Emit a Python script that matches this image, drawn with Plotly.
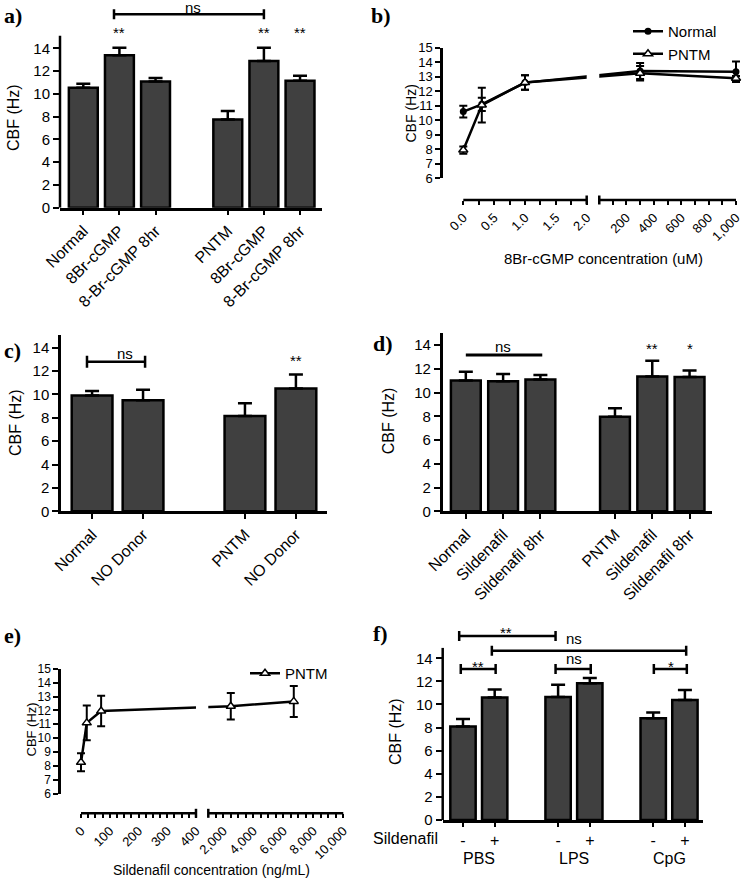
import plotly.graph_objects as go

W, H = 747, 880
SANS = "Liberation Sans, Arial, Helvetica, sans-serif"
SERIF = "Liberation Serif, Times New Roman, serif"
BAR_FILL = "#404040"
INK = "black"

# ---------------- data ----------------
# a) 8Br-cGMP
a_cats = ["Normal", "8Br-cGMP", "8-Br-cGMP 8hr", "PNTM", "8Br-cGMP", "8-Br-cGMP 8hr"]
a_pos = [0, 1, 2, 4, 5, 6]
a_mean = [10.55, 13.4, 11.1, 7.75, 12.9, 11.15]
a_sem = [0.35, 0.65, 0.3, 0.75, 1.15, 0.45]
a_brackets = [(0.85, 5.0, 17.0, "ns", 3.05, 17.6)]
a_stars = [(1, 15.75, "**"), (5, 15.75, "**"), (6, 15.75, "**")]

# b) 8Br-cGMP concentration series
b_conc = [0, 0.3, 1.0, 300, 1000]
b_normal = [10.6, 11.1, 12.6, 13.4, 13.35]
b_normal_sem = [0.4, 0.45, 0.5, 0.55, 0.7]
b_pntm = [7.95, 11.05, 12.6, 13.25, 12.9]
b_pntm_sem = [0.25, 1.2, 0.5, 0.5, 0.15]
b_seg1 = (0, 2)
b_seg2 = (2, 1000)
b_major = [0, 0.5, 1.0, 1.5, 2.0, 200, 400, 600, 800, 1000]
b_major_text = ["0.0", "0.5", "1.0", "1.5", "2.0", "200", "400", "600", "800", "1,000"]
b_minor = [0.25, 0.75, 1.25, 1.75, 100, 300, 500, 700, 900]

# c) NO donor
c_cats = ["Normal", "NO Donor", "PNTM", "NO Donor"]
c_pos = [0, 1, 3, 4]
c_mean = [9.9, 9.5, 8.15, 10.5]
c_sem = [0.4, 0.9, 1.1, 1.2]
c_brackets = [(-0.1, 1.04, 12.8, "ns", 0.65, 13.5)]
c_stars = [(4, 13.2, "**")]

# d) Sildenafil
d_cats = ["Normal", "Sildenafil", "Sildenafil 8hr", "PNTM", "Sildenafil", "Sildenafil 8hr"]
d_pos = [0, 1, 2, 4, 5, 6]
d_mean = [11.0, 10.95, 11.1, 7.95, 11.35, 11.3]
d_sem = [0.75, 0.6, 0.37, 0.72, 1.33, 0.55]
d_lines = [(0, 2.05, 13.16, "ns", 1.0, 13.86)]
d_stars = [(5, 14.05, "**"), (6, 14.05, "*")]

# e) Sildenafil concentration series (PNTM)
e_conc = [0, 20, 70, 2500, 6700]
e_pntm = [8.25, 11.1, 11.95, 12.3, 12.65]
e_pntm_sem = [0.65, 1.25, 1.1, 0.95, 1.12]
e_seg1 = (0, 400)
e_seg2 = (1000, 10000)
e_major = [0, 100, 200, 300, 400, 2000, 4000, 6000, 8000, 10000]
e_major_text = ["0", "100", "200", "300", "400", "2,000", "4,000", "6,000", "8,000", "10,000"]
e_minor = [v for v in range(25, 400, 25) if v % 100] + [v for v in range(1500, 10000, 500) if v % 2000]

# f) Sildenafil with PBS / LPS / CpG
f_ticks = ["-", "+", "-", "+", "-", "+"]
f_groups = ["PBS", "LPS", "CpG"]
f_pos = [0, 1, 3, 4, 6, 7]
f_mean = [8.1, 10.6, 10.65, 11.85, 8.8, 10.4]
f_sem = [0.65, 0.7, 1.05, 0.45, 0.5, 0.85]
f_brackets = [
    (-0.07, 1.03, 13.07, "**", 0.48, 13.6),
    (2.92, 4.03, 13.07, "ns", 3.5, 14.0),
    (6.02, 7.06, 13.07, "*", 6.56, 13.6),
    (-0.12, 2.92, 15.93, "**", 1.36, 16.6),
    (0.91, 7.04, 14.66, "ns", 3.5, 15.73),
]

# ---------------- helpers ----------------
fig = go.Figure()
layout = dict(
    width=W, height=H, margin=dict(l=0, r=0, t=0, b=0),
    paper_bgcolor="white", plot_bgcolor="white",
    font=dict(family=SANS, color=INK), hovermode=False,
)
shapes = []
annotations = []


def px_x(p):
    return p / W


def px_y(p):
    return 1 - p / H


def names(idx):
    s = "" if idx == 1 else str(idx)
    return "x" + s, "y" + s, "xaxis" + s, "yaxis" + s


def ydomain(ybot_px, ppu, yrange):
    top = ybot_px - (yrange[1] - yrange[0]) * ppu
    return [px_y(ybot_px), px_y(top)]


def make_break(seg1, seg2, d1, d2):
    def f(c):
        if c <= seg1[1]:
            return d1[0] + (c - seg1[0]) / (seg1[1] - seg1[0]) * (d1[1] - d1[0])
        return d2[0] + (c - seg2[0]) / (seg2[1] - seg2[0]) * (d2[1] - d2[0])
    return f


def text(xref, yref, x, y, t, size=15, yshift=0, **kw):
    annotations.append(dict(xref=xref, yref=yref, x=x, y=y, text=t, showarrow=False,
                            font=dict(size=size, color=INK), xanchor=kw.pop("xanchor", "center"),
                            yanchor="middle", yshift=yshift, **kw))


def hline(xref, yref, x0, x1, y, width=2.5):
    shapes.append(dict(type="line", xref=xref, yref=yref, x0=x0, x1=x1, y0=y, y1=y,
                       line=dict(color=INK, width=width)))


def vtick(xref, yref, x, y, half=5, width=2.5):
    shapes.append(dict(type="line", xref=xref, yref=yref, x0=x, x1=x, ysizemode="pixel",
                       yanchor=y, y0=-half, y1=half, line=dict(color=INK, width=width)))


def bar_panel(idx, pos, cats, mean, sem, xdom, xrange, ybot, ppu, yrange, ytop_line=None,
              tickangle=-45):
    xa, ya, xk, yk = names(idx)
    fig.add_trace(go.Bar(
        x=pos, y=mean, width=0.8, xaxis=xa, yaxis=ya, showlegend=False,
        marker=dict(color=BAR_FILL, line=dict(color=INK, width=2.5)),
        error_y=dict(type="data", array=sem, arrayminus=[0] * len(sem), symmetric=False,
                     color=INK, thickness=2.5, width=7),
    ))
    layout[xk] = dict(
        domain=[px_x(xdom[0]), px_x(xdom[1])], range=xrange, anchor=ya,
        tickmode="array", tickvals=pos, ticktext=cats, tickangle=tickangle,
        ticks="outside", ticklen=5, tickwidth=2, tickcolor=INK,
        showline=True, linecolor=INK, linewidth=2.5, showgrid=False, zeroline=False,
        tickfont=dict(size=16), automargin=False, fixedrange=True,
    )
    layout[yk] = dict(
        domain=ydomain(ybot, ppu, yrange), range=yrange, anchor=xa,
        tickmode="array", tickvals=list(range(0, 15, 2)),
        ticks="outside", ticklen=6, tickwidth=2, tickcolor=INK,
        showline=ytop_line is None, linecolor=INK, linewidth=2.5,
        showgrid=False, zeroline=False, tickfont=dict(size=15),
        automargin=False, fixedrange=True,
    )
    if ytop_line is not None:
        shapes.append(dict(type="line", xref=xa + " domain", x0=0, x1=0, yref=ya,
                           y0=yrange[0], y1=ytop_line, line=dict(color=INK, width=2.5)))
    return xa, ya


def line_panel(idx, fx, series, xdom, xrange, ybot, ppu, yrange, xpos_px,
               major, major_text, minor, seg1_end_d, seg2_start_d, seg2_end_d, legend,
               ytick_size, xtick_size):
    xa, ya, xk, yk = names(idx)
    for name, xs, ys, es, marker in series:
        fig.add_trace(go.Scatter(
            x=[fx(c) for c in xs], y=ys, mode="lines+markers", name=name,
            xaxis=xa, yaxis=ya, legend=legend, cliponaxis=False,
            line=dict(color=INK, width=2.5), marker=marker,
            error_y=dict(type="data", array=es, color=INK, thickness=2, width=4),
        ))
    layout[xk] = dict(
        domain=[px_x(xdom[0]), px_x(xdom[1])], range=xrange, anchor="free",
        position=px_y(xpos_px),
        tickmode="array", tickvals=[fx(v) for v in major], ticktext=major_text,
        tickangle=-45, ticks="outside", ticklen=4, tickwidth=1.5, tickcolor=INK,
        minor=dict(tickmode="array", tickvals=[fx(v) for v in minor], ticks="outside",
                   ticklen=4, tickwidth=1.5, tickcolor=INK),
        showline=False, showgrid=False, zeroline=False,
        tickfont=dict(size=xtick_size), automargin=False, fixedrange=True,
    )
    layout[yk] = dict(
        domain=ydomain(ybot, ppu, yrange), range=yrange, anchor=xa,
        tickmode="array", tickvals=list(range(int(yrange[0]), int(yrange[1]) + 1)),
        ticks="outside", ticklen=5, tickwidth=2, tickcolor=INK,
        showline=True, linecolor=INK, linewidth=2.5,
        showgrid=False, zeroline=False, tickfont=dict(size=ytick_size),
        automargin=False, fixedrange=True,
    )
    ypos = px_y(xpos_px)
    # broken x axis: two segments with break marks
    shapes.append(dict(type="line", xref=xa, yref="paper", x0=fx(major[0]), x1=seg1_end_d,
                       y0=ypos, y1=ypos, line=dict(color=INK, width=2.5)))
    shapes.append(dict(type="line", xref=xa, yref="paper", x0=seg2_start_d, x1=seg2_end_d,
                       y0=ypos, y1=ypos, line=dict(color=INK, width=2.5)))
    vtick(xa, "paper", seg1_end_d, ypos, half=4.5)
    vtick(xa, "paper", seg2_start_d, ypos, half=4.5)
    # gap in the data line at the axis break
    shapes.append(dict(type="rect", xref=xa, yref=ya, x0=seg1_end_d, x1=seg2_start_d,
                       y0=yrange[0], y1=yrange[1], fillcolor="white", line=dict(width=0),
                       layer="above"))
    return xa, ya


# ---------------- panel a ----------------
xa, ya = bar_panel(1, a_pos, a_cats, a_mean, a_sem, (60, 321.7), [-0.645, 6.6],
                   207.7, 11.38, [0, 18.2], ytop_line=15.1)
for x0, x1, y, lab, lx, ly in a_brackets:
    hline(xa, ya, x0, x1, y)
    vtick(xa, ya, x0, y)
    vtick(xa, ya, x1, y)
    text(xa, ya, lx, ly, lab, size=15)
for x, y, lab in a_stars:
    text(xa, ya, x, y, lab, size=15, yshift=-4)

# ---------------- panel b ----------------
fb = make_break(b_seg1, b_seg2, (0, 2.0), (2.204, 4.42))
NORMAL_MK = dict(symbol="circle", size=7, color=INK)
PNTM_MK = dict(symbol="triangle-up", size=8, color="white", line=dict(color=INK, width=1.5))
xb, yb = line_panel(
    2, fb,
    [("Normal", b_conc, b_normal, b_normal_sem, NORMAL_MK),
     ("PNTM", b_conc, b_pntm, b_pntm_sem, PNTM_MK)],
    (443, 745), [-0.329, 4.566], 178.3, 14.5, [6, 15], 200,
    b_major, b_major_text, b_minor, fb(b_seg1[1]), 2.204, fb(b_seg2[1]), "legend",
    13, 13,
)

# ---------------- panel c ----------------
xc, yc = bar_panel(3, c_pos, c_cats, c_mean, c_sem, (61, 327), [-0.61, 4.61],
                   511.3, 11.69, [0, 15.1])
for x0, x1, y, lab, lx, ly in c_brackets:
    hline(xc, yc, x0, x1, y)
    vtick(xc, yc, x0, y, half=6)
    vtick(xc, yc, x1, y, half=6)
    text(xc, yc, lx, ly, lab, size=15)
for x, y, lab in c_stars:
    text(xc, yc, x, y, lab, size=15, yshift=-4)

# ---------------- panel d ----------------
xd, yd = bar_panel(4, d_pos, d_cats, d_mean, d_sem, (442.7, 712.3), [-0.62, 6.61],
                   511.3, 11.88, [0, 15.0])
for x0, x1, y, lab, lx, ly in d_lines:
    hline(xd, yd, x0, x1, y, width=3)
    text(xd, yd, lx, ly, lab, size=15)
for x, y, lab in d_stars:
    text(xd, yd, x, y, lab, size=15, yshift=-4)

# ---------------- panel e ----------------
fe = make_break(e_seg1, e_seg2, (0, 1.0), (1.107, 2.281))
xe, ye = line_panel(
    5, fe,
    [("PNTM", e_conc, e_pntm, e_pntm_sem, PNTM_MK)],
    (61, 345), [-0.174, 2.296], 793.5, 13.85, [6, 15], 813.3,
    e_major, e_major_text, e_minor, fe(e_seg1[1]), 1.107, fe(e_seg2[1]), "legend2",
    12, 13,
)

# ---------------- panel f ----------------
xf, yf = bar_panel(6, f_pos, f_ticks, f_mean, f_sem, (442.7, 703.3), [-0.64, 7.58],
                   820, 11.55, [0, 17.5], ytop_line=14.9, tickangle=0)
layout["xaxis6"]["ticklen"] = 4
for x0, x1, y, lab, lx, ly in f_brackets:
    hline(xf, yf, x0, x1, y)
    vtick(xf, yf, x0, y)
    vtick(xf, yf, x1, y)
    if lab.startswith("*"):
        text(xf, yf, lx, ly, lab, size=15, yshift=-4)
    else:
        text(xf, yf, lx, ly, lab, size=15)
for g, name in enumerate(f_groups):
    text(xf, "paper", (f_pos[2 * g] + f_pos[2 * g + 1]) / 2, px_y(858.3), name, size=16)
text("paper", "paper", px_x(371), px_y(838.3), "Sildenafil", size=16, xanchor="left")

# ---------------- titles & panel letters ----------------
for lx, ly, lab in [(2, 15, "a)"), (369, 15, "b)"), (2, 350, "c)"), (371, 344, "d)"),
                    (2, 635, "e)"), (371, 633, "f)")]:
    annotations.append(dict(xref="paper", yref="paper", x=px_x(lx), y=px_y(ly),
                            text="<b>" + lab + "</b>", showarrow=False, xanchor="left",
                            yanchor="middle", font=dict(family=SERIF, size=22, color=INK)))

for cx, cy, size in [(13.5, 117.5, 16), (15, 423, 16), (388.3, 421, 16), (395, 732, 16),
                     (410.5, 113, 14), (30.5, 730, 13)]:
    annotations.append(dict(xref="paper", yref="paper", x=px_x(cx), y=px_y(cy),
                            text="CBF (Hz)", textangle=-90, showarrow=False,
                            xanchor="center", yanchor="middle",
                            font=dict(size=size, color=INK)))

text("paper", "paper", px_x(603), px_y(258), "8Br-cGMP concentration (uM)", size=15)
text("paper", "paper", px_x(212), px_y(870), "Sildenafil concentration (ng/mL)", size=14)

layout["legend"] = dict(x=px_x(628), y=px_y(15), xanchor="left", yanchor="top",
                        font=dict(size=15, color=INK), bgcolor="rgba(0,0,0,0)",
                        borderwidth=0, itemwidth=30, tracegroupgap=0)
layout["legend2"] = dict(x=px_x(245), y=px_y(657), xanchor="left", yanchor="top",
                         font=dict(size=15, color=INK), bgcolor="rgba(0,0,0,0)",
                         borderwidth=0, itemwidth=30, tracegroupgap=0)
layout["shapes"] = shapes
layout["annotations"] = annotations
fig.update_layout(**layout)
fig.write_html("out.html", config={"displayModeBar": False},
               post_script="document.body.style.margin='0';")
